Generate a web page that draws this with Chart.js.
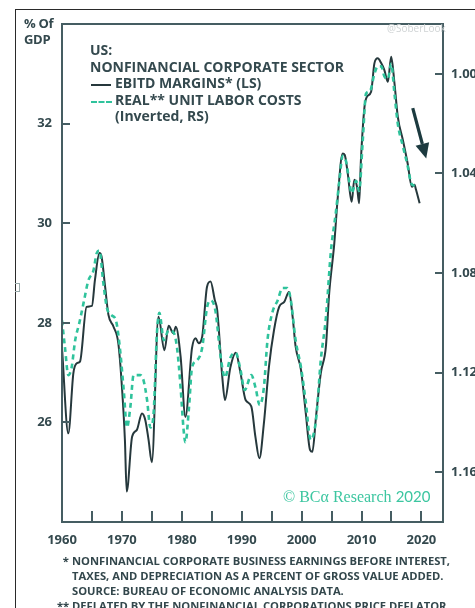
<!DOCTYPE html>
<html>
<head>
<meta charset="utf-8">
<script src="https://cdn.jsdelivr.net/npm/chart.js@4.4.1/dist/chart.umd.min.js"></script>
<style>
  html, body { margin: 0; padding: 0; background: #fff; }
  #wrap { position: relative; width: 475px; height: 608px; overflow: hidden; background: #fff; }
  #chart { position: absolute; left: 0; top: 0; }
  .frame { position: absolute; left: 15px; top: 9px; width: 470px; height: 610px;
           border-left: 1px solid #2a2a2a; border-top: 1px solid #2a2a2a; }
  .nub { position: absolute; left: 15px; top: 283px; width: 4px; height: 7px;
         border: 1px solid #9aa; border-left: none; }
  .txt { position: absolute; font-family: "Open Sans", Lato, sans-serif; font-weight: 700;
         color: #34494e; white-space: nowrap; }
  .unit { left: 24px; top: 15px; font-size: 13px; line-height: 16px; letter-spacing: -0.3px; }
  .leg { left: 90px; top: 42px; font-size: 14px; line-height: 16.5px; }
  .leg .row { position: relative; }
  .leg .ind { padding-left: 25px; }
  .leg .solid { position: absolute; left: 1px; top: 9px; width: 20px; border-top: 2px solid #26383c; }
  .leg .dash { position: absolute; left: 1px; top: 9px; width: 21px; border-top: 2px dashed #2fc39c; }
  .wm { left: 387px; top: 21px; font-size: 10px; font-weight: 400; color: #cfd3d4; }
  .bca { left: 283px; top: 485px; color: #3cc6a0; font-weight: 400; font-size: 16px; }
  .bca .serif { font-family: "Liberation Serif", "DejaVu Serif", serif; }
  .bca .yr { font-family: Lato, sans-serif; font-size: 15px; }
  .notes { left: 57px; top: 553px; font-size: 11.2px; line-height: 15px; color: #33474c; }
  .notes .mk { display: inline-block; width: 15px; }
  .notes .ind { padding-left: 15px; }
</style>
</head>
<body>
<div id="wrap">
  <canvas id="chart" width="475" height="608"></canvas>
  <div class="frame"></div>
  <div class="nub"></div>
  <div class="txt unit">% Of<br>GDP</div>
  <div class="txt leg">
    <div class="row">US:</div>
    <div class="row">NONFINANCIAL CORPORATE SECTOR</div>
    <div class="row ind"><span class="solid"></span>EBITD MARGINS* (LS)</div>
    <div class="row ind"><span class="dash"></span>REAL** UNIT LABOR COSTS</div>
    <div class="row ind">(Inverted, RS)</div>
  </div>
  <div class="txt wm">@SoberLook</div>
  <div class="txt bca"><span class="serif">© BCα Research</span> <span class="yr">2020</span></div>
  <div class="txt notes">
    <div><span class="mk">&nbsp;&nbsp;*</span>NONFINANCIAL CORPORATE BUSINESS EARNINGS BEFORE INTEREST,</div>
    <div class="ind">TAXES, AND DEPRECIATION AS A PERCENT OF GROSS VALUE ADDED.</div>
    <div class="ind">SOURCE: BUREAU OF ECONOMIC ANALYSIS DATA.</div>
    <div><span class="mk">**</span>DEFLATED BY THE NONFINANCIAL CORPORATIONS PRICE DEFLATOR.</div>
  </div>
</div>
<script>
// EBITD margins, % of gross value added (left scale)
const marginYears = [1960.0,1961.05,1961.9,1962.5,1963.0,1964.1,1965.0,1965.5,1966.25,1966.6,
  1967.2,1967.75,1968.6,1969.4,1970.0,1970.5,1970.8,1971.7,1972.5,1973.35,
  1973.9,1974.45,1975.0,1976.1,1977.1,1977.8,1978.6,1979.0,1979.8,1980.6,
  1981.7,1982.3,1982.8,1983.4,1984.2,1984.8,1985.5,1985.9,1986.75,1987.2,
  1988.1,1989.0,1989.8,1990.65,1991.6,1992.3,1992.95,1993.7,1994.55,1995.4,
  1996.25,1997.1,1997.9,1998.5,1999.0,1999.9,2000.7,2001.4,2001.8,2002.4,
  2003.2,2004.05,2004.6,2005.45,2006.0,2006.85,2007.2,2007.7,2008.35,2008.8,
  2009.25,2009.6,2009.9,2010.5,2010.9,2011.6,2012.15,2012.7,2013.3,2013.8,
  2014.4,2014.95,2015.5,2016.05,2016.9,2017.7,2018.4,2018.85,2019.1,2019.7];
const ebitdMargins = [27.49,25.78,26.99,27.19,27.22,28.32,28.34,28.86,29.40,29.33,
  28.72,28.16,27.92,27.59,26.72,25.65,24.61,25.71,25.85,26.18,
  26.05,25.65,25.20,28.12,27.45,27.94,27.79,27.92,27.32,26.11,
  27.49,27.69,27.59,27.72,28.72,28.83,28.46,28.26,26.92,26.45,
  27.10,27.40,26.99,26.45,26.32,25.70,25.28,25.98,27.12,27.86,
  28.32,28.42,28.62,28.12,27.52,27.05,26.18,25.45,25.41,26.11,
  26.99,27.52,28.59,29.59,30.47,31.40,31.37,31.00,30.43,30.87,
  30.73,30.40,31.27,32.34,32.54,32.64,33.21,33.31,33.21,33.08,
  32.84,33.34,32.81,32.14,31.67,31.20,30.73,30.77,30.67,30.40];

// Real unit labor costs (right scale, inverted)
const ulcYears = [1960.0,1960.5,1961.05,1961.6,1962.2,1962.9,1963.6,1964.4,1965.25,1965.8,
  1966.25,1966.9,1967.5,1968.3,1969.0,1969.7,1970.3,1970.85,1971.4,1971.95,
  1973.05,1973.6,1974.2,1974.75,1975.3,1975.85,1976.25,1977.0,1977.8,1978.65,
  1979.2,1979.8,1980.3,1980.6,1981.2,1981.7,1982.55,1983.4,1984.2,1984.8,
  1985.6,1986.5,1987.2,1988.1,1989.0,1989.8,1990.5,1991.6,1992.3,1993.0,
  1993.7,1994.3,1995.1,1996.0,1996.8,1997.6,1998.2,1999.0,1999.9,2000.7,
  2001.5,2002.4,2003.2,2004.05,2004.9,2005.7,2006.3,2006.85,2007.4,2008.0,
  2008.35,2009.1,2009.6,2010.2,2010.75,2011.4,2012.15,2012.7,2013.3,2013.8,
  2014.4,2014.95,2015.5,2016.05,2016.9,2017.7,2018.3,2018.85];
const realUnitLaborCosts = [1.099,1.110,1.121,1.118,1.107,1.100,1.092,1.083,1.079,1.072,
  1.071,1.084,1.094,1.097,1.099,1.111,1.127,1.142,1.134,1.121,
  1.121,1.123,1.131,1.142,1.136,1.104,1.096,1.107,1.103,1.104,
  1.110,1.126,1.143,1.148,1.134,1.118,1.115,1.110,1.094,1.091,
  1.095,1.114,1.122,1.114,1.112,1.119,1.127,1.121,1.126,1.133,
  1.126,1.107,1.096,1.091,1.086,1.086,1.091,1.107,1.118,1.132,
  1.147,1.139,1.115,1.098,1.071,1.056,1.043,1.033,1.035,1.044,
  1.048,1.043,1.047,1.027,1.008,1.007,1.000,0.997,0.997,1.001,
  1.002,0.996,1.008,1.020,1.029,1.037,1.044,1.045];

// Axis ticks
const yearLabels = [1960, 1970, 1980, 1990, 2000, 2010, 2020];
const yearTickMarks = [1965, 1970, 1975, 1980, 1985, 1990, 1995, 2000, 2005, 2010, 2015, 2020];
const leftTicks = [26, 28, 30, 32];
const rightTicks = [1.00, 1.04, 1.08, 1.12, 1.16];

const AXIS = '#455d62';
const TICK_FONT = { family: '"Open Sans", Lato, sans-serif', weight: '700', size: 13 };

const pairs = (xs, ys) => xs.map((x, i) => ({ x: x, y: ys[i] }));

// Box around the plot, inward tick marks and the trend arrow
const framePlugin = {
  id: 'frame',
  afterDatasetsDraw(chart) {
    const { ctx, chartArea: a, scales } = chart;
    ctx.save();
    ctx.strokeStyle = AXIS;
    ctx.lineWidth = 2;
    ctx.strokeRect(a.left, a.top, a.right - a.left, a.bottom - a.top);
    ctx.beginPath();
    yearTickMarks.forEach(v => {
      const px = Math.round(scales.x.getPixelForValue(v));
      ctx.moveTo(px, a.bottom); ctx.lineTo(px, a.bottom - 11);
    });
    leftTicks.forEach(v => {
      const py = Math.round(scales.yL.getPixelForValue(v));
      ctx.moveTo(a.left, py); ctx.lineTo(a.left + 8, py);
    });
    rightTicks.forEach(v => {
      const py = Math.round(scales.yR.getPixelForValue(v));
      ctx.moveTo(a.right, py); ctx.lineTo(a.right - 8, py);
    });
    ctx.stroke();

    // arrow pointing at the recent decline
    const x0 = scales.x.getPixelForValue(2018.55), y0 = scales.yL.getPixelForValue(32.31);
    const x1 = scales.x.getPixelForValue(2020.8),  y1 = scales.yL.getPixelForValue(31.30);
    const ang = Math.atan2(y1 - y0, x1 - x0);
    const hl = 15, hw = 7;
    const bx = x1 - hl * Math.cos(ang), by = y1 - hl * Math.sin(ang);
    ctx.strokeStyle = '#1c3a3f';
    ctx.fillStyle = '#1c3a3f';
    ctx.lineWidth = 3.2;
    ctx.beginPath(); ctx.moveTo(x0, y0); ctx.lineTo(bx, by); ctx.stroke();
    ctx.beginPath();
    ctx.moveTo(x1, y1);
    ctx.lineTo(bx + hw * Math.sin(ang), by - hw * Math.cos(ang));
    ctx.lineTo(bx - hw * Math.sin(ang), by + hw * Math.cos(ang));
    ctx.closePath(); ctx.fill();
    ctx.restore();
  }
};

new Chart(document.getElementById('chart'), {
  type: 'line',
  data: {
    datasets: [
      {
        label: 'REAL** UNIT LABOR COSTS (Inverted, RS)',
        data: pairs(ulcYears, realUnitLaborCosts),
        yAxisID: 'yR',
        borderColor: '#2fc39c',
        borderWidth: 2.6,
        borderDash: [5, 4],
        pointRadius: 0,
        cubicInterpolationMode: 'monotone',
        order: 1
      },
      {
        label: 'EBITD MARGINS* (LS)',
        data: pairs(marginYears, ebitdMargins),
        yAxisID: 'yL',
        borderColor: '#26383c',
        borderWidth: 2,
        pointRadius: 0,
        cubicInterpolationMode: 'monotone',
        order: 2
      }
    ]
  },
  options: {
    responsive: false,
    animation: false,
    events: [],
    layout: { padding: { top: 24, left: 0, right: 0, bottom: 0 } },
    plugins: { legend: { display: false }, tooltip: { enabled: false } },
    scales: {
      x: {
        type: 'linear', min: 1960, max: 2023.6,
        afterBuildTicks: s => { s.ticks = yearLabels.map(v => ({ value: v })); },
        afterFit: s => { s.height = 86; },
        grid: { display: false, drawTicks: false },
        border: { display: false },
        ticks: { font: TICK_FONT, color: '#34494e', padding: 10, maxRotation: 0,
                 autoSkip: false, callback: v => String(v) }
      },
      yL: {
        type: 'linear', position: 'left', min: 24, max: 34,
        afterBuildTicks: s => { s.ticks = leftTicks.map(v => ({ value: v })); },
        afterFit: s => { s.width = 62; },
        grid: { display: false, drawTicks: false },
        border: { display: false },
        ticks: { font: TICK_FONT, color: '#34494e', padding: 10, autoSkip: false }
      },
      yR: {
        type: 'linear', position: 'right', min: 0.98, max: 1.18, reverse: true,
        afterBuildTicks: s => { s.ticks = rightTicks.map(v => ({ value: v })); },
        afterFit: s => { s.width = 32; },
        grid: { display: false, drawTicks: false },
        border: { display: false },
        ticks: { font: TICK_FONT, color: '#34494e', padding: 8, autoSkip: false,
                 callback: v => Number(v).toFixed(2) }
      }
    }
  },
  plugins: [framePlugin]
});
</script>
</body>
</html>
